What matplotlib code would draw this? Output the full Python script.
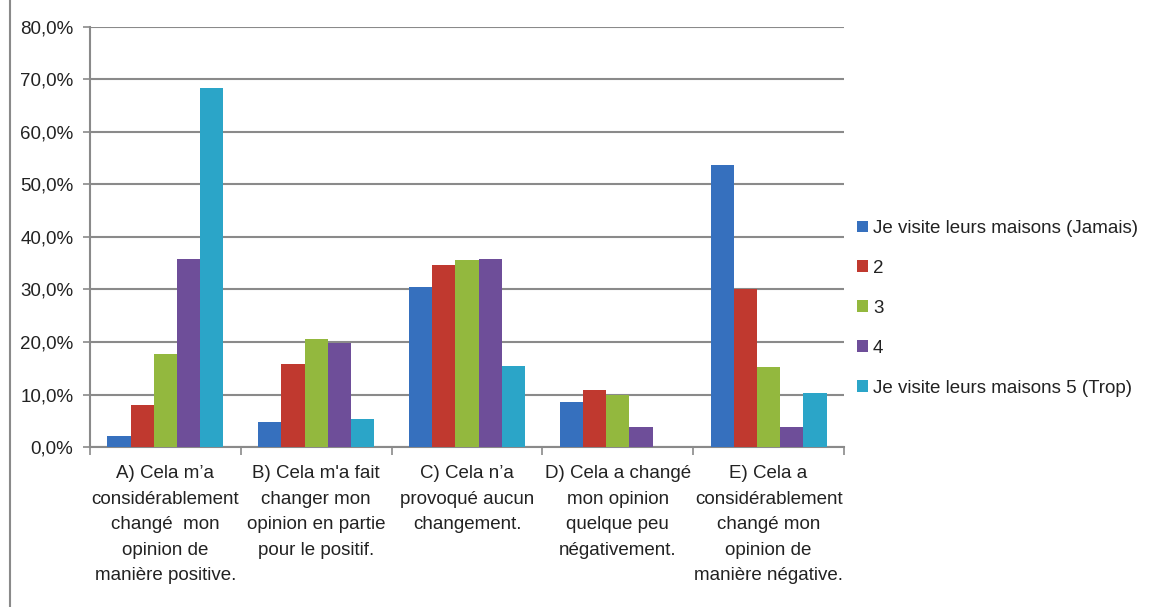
import matplotlib.pyplot as plt
import numpy as np
from matplotlib.lines import Line2D
from matplotlib.ticker import FuncFormatter

categories = [
    "A) Cela m\u2019a\nconsidérablement\nchangé  mon\nopinion de\nmanière positive.",
    "B) Cela m'a fait\nchanger mon\nopinion en partie\npour le positif.",
    "C) Cela n\u2019a\nprovoqué aucun\nchangement.",
    "D) Cela a changé\nmon opinion\nquelque peu\nnégativement.",
    "E) Cela a\nconsidérablement\nchangé mon\nopinion de\nmanière négative.",
]
series_names = [
    "Je visite leurs maisons (Jamais)",
    "2",
    "3",
    "4",
    "Je visite leurs maisons 5 (Trop)",
]
jamais = [2.1, 4.8, 30.4, 8.5, 53.7]
niveau2 = [8.0, 15.9, 34.7, 10.9, 30.0]
niveau3 = [17.8, 20.5, 35.7, 10.0, 15.2]
niveau4 = [35.9, 19.9, 35.9, 3.8, 3.8]
trop = [68.3, 5.3, 15.5, 0.0, 10.2]
y_ticks = [0, 10, 20, 30, 40, 50, 60, 70, 80]

values = [jamais, niveau2, niveau3, niveau4, trop]
colors = ["#3670BE", "#C0392F", "#93B83E", "#6E4E99", "#2BA5C8"]

plt.rcParams['font.family'] = ['Liberation Sans', 'DejaVu Sans']

fig = plt.figure(figsize=(11.53, 6.07), dpi=100)
ax = fig.add_axes([90 / 1153, 160 / 607, 754 / 1153, 420 / 607])

x = np.arange(len(categories))
w = 1 / 6.5
for i, (vals, name, c) in enumerate(zip(values, series_names, colors)):
    ax.bar(x + (i - 2) * w, vals, width=w, color=c, label=name, zorder=3)

ax.set_xlim(-0.5, len(categories) - 0.5)
ax.set_ylim(0, 80)
ax.set_yticks(y_ticks)
ax.yaxis.set_major_formatter(FuncFormatter(lambda v, p: f"{v:.1f}%".replace(".", ",")))
ax.yaxis.grid(True, color="#8a8a8a", linewidth=1.5, zorder=0)

ax.set_xticks(x)
ax.set_xticklabels(categories, fontsize=13.5, linespacing=1.66, color="#222222")
ax.set_xticks(np.arange(-0.5, len(categories)), minor=True)
ax.tick_params(axis='x', which='major', length=0, pad=13)
ax.tick_params(axis='x', which='minor', length=6, color="#8a8a8a", width=1.2)
ax.tick_params(axis='y', length=5, color="#8a8a8a", width=1.2, labelsize=13.5, labelcolor="#222222", pad=7)

for s in ['top', 'right']:
    ax.spines[s].set_visible(False)
for s in ['left', 'bottom']:
    ax.spines[s].set_color("#8a8a8a")
    ax.spines[s].set_linewidth(1.5)

leg = ax.legend(loc='center left', bbox_to_anchor=(0.995, 0.33), frameon=False,
                fontsize=13.5, handlelength=0.6, handleheight=0.6, handletextpad=0.25,
                labelspacing=1.22, labelcolor="#222222")

fig.add_artist(Line2D([10 / 1153, 10 / 1153], [0, 1], color="#8a8a8a", linewidth=1.5))

fig.savefig("out.png", dpi=100, facecolor="white")
